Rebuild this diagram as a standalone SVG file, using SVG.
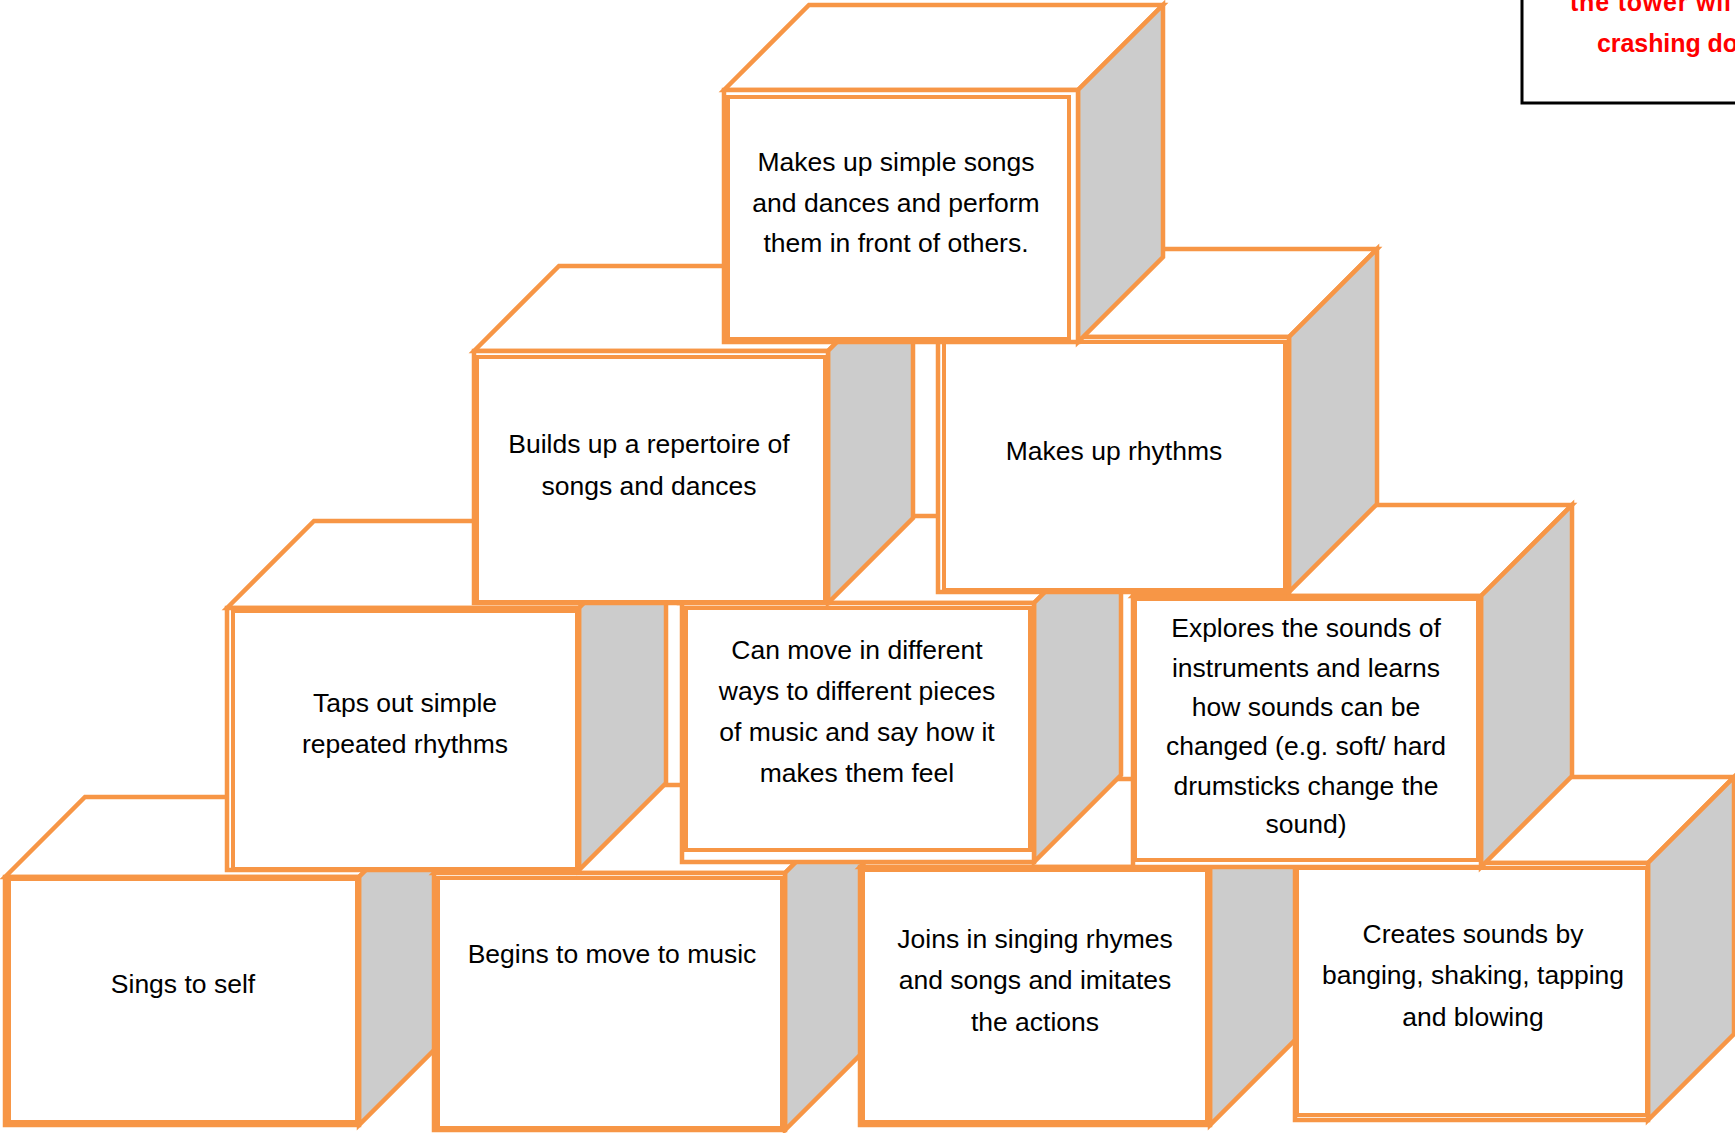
<svg xmlns="http://www.w3.org/2000/svg" width="1735" height="1133" viewBox="0 0 1735 1133">
<style>
.cb{stroke:#F79646;stroke-width:4.5;stroke-linejoin:miter}
.top{fill:#FFFFFF}
.side{fill:#CCCCCC}
.front{fill:#FFFFFF}
.box{fill:#FFFFFF;stroke:#F79646;stroke-width:4}
.t{font-family:"Liberation Sans",Arial,sans-serif;font-size:26.5px;text-anchor:middle;fill:#000000}
.red{font-family:"Liberation Sans",Arial,sans-serif;font-size:25px;font-weight:bold;fill:#FF0000}
</style>
<rect x="0" y="0" width="1735" height="1133" fill="#FFFFFF"/>

<g id="note">
<rect x="1522" y="-10" width="240" height="113" fill="#FFFFFF" stroke="#000000" stroke-width="3"/>
<text class="red" x="1570" y="11" textLength="161" lengthAdjust="spacing">the tower wil</text>
<text class="red" x="1597" y="52" textLength="141" lengthAdjust="spacing">crashing do</text>
</g>

<!-- bottom row -->
<g id="n-sings">
<polygon class="cb top" points="5,877 85,797 439,797 359,877"/>
<polygon class="cb side" points="359,877 439,797 439,1045 359,1125"/>
<rect class="cb front" x="5" y="877" width="354" height="248"/>
<rect class="box" x="9" y="879" width="348" height="243"/>
<text class="t" x="183" y="993">Sings to self</text>
</g>

<g id="n-begins">
<polygon class="cb top" points="434,873 522,785 873,785 785,873"/>
<polygon class="cb side" points="785,873 873,785 873,1042 785,1130"/>
<rect class="cb front" x="434" y="873" width="351" height="257"/>
<rect class="box" x="438" y="878" width="344" height="250"/>
<text class="t" x="612" y="963">Begins to move to music</text>
</g>

<g id="n-joins">
<polygon class="cb top" points="860,867 948,779 1298,779 1210,867"/>
<polygon class="cb side" points="1210,867 1298,779 1298,1037 1210,1125"/>
<rect class="cb front" x="860" y="867" width="350" height="258"/>
<rect class="box" x="863" y="870" width="344" height="252"/>
<text class="t" x="1035" y="948">Joins in singing rhymes</text>
<text class="t" x="1035" y="989">and songs and imitates</text>
<text class="t" x="1035" y="1031">the actions</text>
</g>

<g id="n-creates">
<polygon class="cb top" points="1295,863 1381,777 1734,777 1648,863"/>
<polygon class="cb side" points="1648,863 1734,777 1734,1034 1648,1120"/>
<rect class="cb front" x="1295" y="863" width="353" height="257"/>
<rect class="box" x="1297" y="868" width="350" height="247"/>
<text class="t" x="1473" y="943">Creates sounds by</text>
<text class="t" x="1473" y="984">banging, shaking, tapping</text>
<text class="t" x="1473" y="1026">and blowing</text>
</g>

<!-- third row -->
<g id="n-taps">
<polygon class="cb top" points="227,608 314,521 666,521 579,608"/>
<polygon class="cb side" points="579,608 666,521 666,783 579,870"/>
<rect class="cb front" x="227" y="608" width="352" height="262"/>
<rect class="box" x="233" y="611" width="344" height="258"/>
<text class="t" x="405" y="712">Taps out simple</text>
<text class="t" x="405" y="753">repeated rhythms</text>
</g>

<g id="n-canmove">
<polygon class="cb top" points="682,603 769,516 1121,516 1034,603"/>
<polygon class="cb side" points="1034,603 1121,516 1121,775 1034,862"/>
<rect class="cb front" x="682" y="603" width="352" height="259"/>
<rect class="box" x="686" y="608" width="344" height="242"/>
<text class="t" x="857" y="659">Can move in different</text>
<text class="t" x="857" y="700">ways to different pieces</text>
<text class="t" x="857" y="741">of music and say how it</text>
<text class="t" x="857" y="782">makes them feel</text>
</g>

<g id="n-explores">
<polygon class="cb top" points="1133,596 1224,505 1572,505 1481,596"/>
<polygon class="cb side" points="1481,596 1572,505 1572,776 1481,867"/>
<rect class="cb front" x="1133" y="596" width="348" height="271"/>
<rect class="box" x="1135" y="599" width="343" height="261"/>
<text class="t" x="1306" y="637">Explores the sounds of</text>
<text class="t" x="1306" y="677">instruments and learns</text>
<text class="t" x="1306" y="716">how sounds can be</text>
<text class="t" x="1306" y="755">changed (e.g. soft/ hard</text>
<text class="t" x="1306" y="795">drumsticks change the</text>
<text class="t" x="1306" y="833">sound)</text>
</g>

<!-- second row -->
<g id="n-builds">
<polygon class="cb top" points="474,351 559,266 913,266 828,351"/>
<polygon class="cb side" points="828,351 913,266 913,518 828,603"/>
<rect class="cb front" x="474" y="351" width="354" height="252"/>
<rect class="box" x="477" y="357" width="348" height="245"/>
<text class="t" x="649" y="453">Builds up a repertoire of</text>
<text class="t" x="649" y="495">songs and dances</text>
</g>

<g id="n-rhythms">
<polygon class="cb top" points="938,337 1026,249 1377,249 1289,337"/>
<polygon class="cb side" points="1289,337 1377,249 1377,504 1289,592"/>
<rect class="cb front" x="938" y="337" width="351" height="255"/>
<rect class="box" x="944" y="342" width="341" height="248"/>
<text class="t" x="1114" y="460">Makes up rhythms</text>
</g>

<!-- top -->
<g id="n-makesup">
<polygon class="cb top" points="724,90 809,5 1163,5 1078,90"/>
<polygon class="cb side" points="1078,90 1163,5 1163,257 1078,342"/>
<rect class="cb front" x="724" y="90" width="354" height="252"/>
<rect class="box" x="728" y="97" width="341" height="242"/>
<text class="t" x="896" y="171">Makes up simple songs</text>
<text class="t" x="896" y="212">and dances and perform</text>
<text class="t" x="896" y="252">them in front of others.</text>
</g>

<g id="connectors"></g>
</svg>
